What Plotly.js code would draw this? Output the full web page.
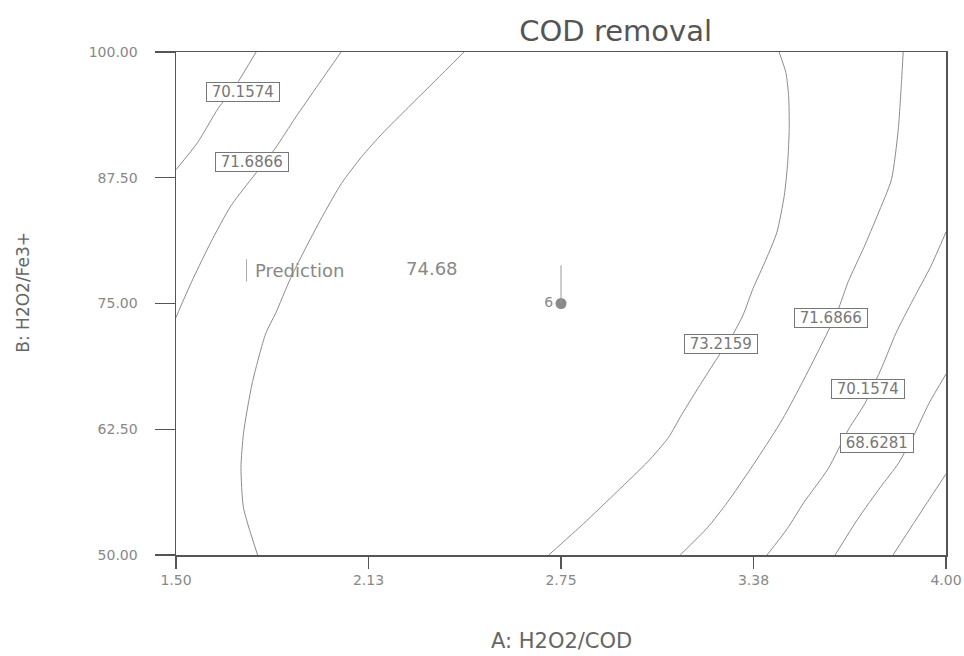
<!DOCTYPE html>
<html>
<head>
<meta charset="utf-8">
<script src="https://cdn.plot.ly/plotly-3.0.1.min.js"></script>
<style>
  html, body { margin: 0; padding: 0; background: #ffffff; }
  #chart { width: 964px; height: 656px; }
</style>
</head>
<body>
<div id="chart"></div>
<script>
// Contour levels of the COD removal response surface (%)
const levels = [67.0989, 68.6281, 70.1574, 71.6866, 73.2159];

// Axis ticks
const xTickVals = [1.5, 2.125, 2.75, 3.375, 4.0];
const xTickText = ['1.50', '2.13', '2.75', '3.38', '4.00'];
const yTickVals = [50, 62.5, 75, 87.5, 100];
const yTickText = ['50.00', '62.50', '75.00', '87.50', '100.00'];

// Contour traces, A: H2O2/COD (x) against B: H2O2/Fe3+ (y)
// 70.1574, upper-left corner
const c701574a_x = [1.76, 1.694, 1.637, 1.571, 1.5];
const c701574a_y = [100, 96.67, 94.40, 91.04, 88.3];
// 71.6866, left side
const c716866a_x = [2.036, 1.963, 1.887, 1.821, 1.679, 1.613, 1.556, 1.513, 1.5];
const c716866a_y = [100, 96.80, 93.44, 90.37, 84.74, 81.08, 77.51, 74.55, 73.6];
// 73.2159, left arc
const c732159a_x = [2.435, 2.343, 2.255, 2.169, 2.103, 2.037, 1.981, 1.924, 1.871, 1.824, 1.791, 1.747, 1.719, 1.711, 1.719, 1.765];
const c732159a_y = [100, 97.19, 94.52, 91.87, 89.60, 86.93, 83.97, 80.70, 77.44, 74.07, 71.99, 67.03, 62.07, 58.69, 54.71, 50];
// 73.2159, right arc
const c732159b_x = [3.458, 3.480, 3.489, 3.491, 3.486, 3.475, 3.451, 3.416, 3.374, 3.341, 3.307, 3.264, 3.208, 3.142, 3.099, 3.033, 2.934, 2.823, 2.71];
const c732159b_y = [100, 97.96, 95.68, 92.40, 89.02, 85.74, 82.07, 79.4, 76.52, 73.85, 71.87, 69.89, 67.22, 63.96, 61.68, 59.31, 56.36, 53.11, 50];
// 71.6866, right side
const c716866b_x = [3.861, 3.856, 3.845, 3.823, 3.778, 3.733, 3.683, 3.648, 3.589, 3.533, 3.476, 3.443, 3.367, 3.291, 3.225, 3.137];
const c716866b_y = [100, 97.27, 92.30, 87.33, 83.8, 80.55, 77.2, 74.25, 70.50, 67.13, 63.87, 62.19, 58.63, 55.27, 52.70, 50];
// 70.1574, right side
const c701574b_x = [4.0, 3.950, 3.893, 3.837, 3.793, 3.737, 3.684, 3.617, 3.538, 3.485, 3.419];
const c701574b_y = [82.11, 78.65, 75.38, 72.02, 68.75, 65.08, 62.51, 58.56, 55.20, 52.63, 50];
// 68.6281
const c686281_x = [4.0, 3.944, 3.898, 3.845, 3.789, 3.713, 3.64];
const c686281_y = [67.99, 65.03, 62.06, 59.09, 56.82, 53.56, 50];
// 67.0989
const c670989_x = [4.0, 3.951, 3.894, 3.828];
const c670989_y = [58.05, 55.78, 53.11, 50];

// Design point and prediction
const predX = 2.75;
const predY = 75;
const predValue = 74.68;
const runLabel = '6';

const FONT = 'DejaVu Sans, Arial, sans-serif';
const lineStyle = { color: '#8c8c8c', width: 1, shape: 'spline', smoothing: 0.6 };

function contour(x, y) {
  return { type: 'scatter', mode: 'lines', x: x, y: y, line: lineStyle,
           hoverinfo: 'skip', showlegend: false, cliponaxis: true };
}

const traces = [
  contour(c701574a_x, c701574a_y),
  contour(c716866a_x, c716866a_y),
  contour(c732159a_x, c732159a_y),
  contour(c732159b_x, c732159b_y),
  contour(c716866b_x, c716866b_y),
  contour(c701574b_x, c701574b_y),
  contour(c686281_x, c686281_y),
  contour(c670989_x, c670989_y),
  {
    type: 'scatter', mode: 'markers+text', x: [predX], y: [predY],
    text: [runLabel], textposition: 'middle left',
    textfont: { family: FONT, size: 14, color: '#888' },
    marker: { color: '#8a8a8a', size: 11, line: { width: 0 } },
    hoverinfo: 'skip', showlegend: false
  }
];

// Boxed contour labels placed on their lines
function levelLabel(level, x, y) {
  return {
    x: x, y: y, xref: 'x', yref: 'y', showarrow: false,
    text: '&nbsp;' + level.toFixed(4) + '&nbsp;',
    font: { family: FONT, size: 15, color: '#777' },
    bgcolor: '#ffffff', bordercolor: '#777', borderwidth: 1, borderpad: 0
  };
}

const annotations = [
  levelLabel(levels[2], 1.716, 96.07),
  levelLabel(levels[3], 1.746, 89.10),
  levelLabel(levels[4], 3.268, 70.98),
  levelLabel(levels[3], 3.627, 73.56),
  levelLabel(levels[2], 3.747, 66.47),
  levelLabel(levels[1], 3.777, 61.09),
  {
    x: 1.75, y: 78.3, xref: 'x', yref: 'y', xanchor: 'left', showarrow: false,
    text: 'Prediction', font: { family: FONT, size: 18, color: '#888' }
  },
  {
    x: 2.33, y: 78.45, xref: 'x', yref: 'y', xanchor: 'center', showarrow: false,
    text: predValue.toFixed(2), font: { family: FONT, size: 18, color: '#888' }
  },
  {
    x: 0.5, y: 0, xref: 'paper', yref: 'paper', yshift: -86, yanchor: 'middle',
    showarrow: false, text: 'A: H2O2/COD',
    font: { family: FONT, size: 21, color: '#666' }
  },
  {
    x: -0.199, y: 0.523, xref: 'paper', yref: 'paper', textangle: -90,
    xanchor: 'center', yanchor: 'middle', showarrow: false, text: 'B: H2O2/Fe3+',
    font: { family: FONT, size: 17, color: '#666' }
  }
];

const shapes = [
  // flag above the design point
  { type: 'line', xref: 'x', yref: 'y', x0: predX, x1: predX, y0: predY, y1: predY + 3.8,
    line: { color: '#999', width: 1 } },
  // marker bar in front of the prediction readout
  { type: 'line', xref: 'x', yref: 'y', x0: 1.729, x1: 1.729, y0: 77.2, y1: 79.4,
    line: { color: '#aaa', width: 1 } }
];

const axisCommon = {
  showline: true, mirror: true, linecolor: '#555', linewidth: 1.5,
  showgrid: false, zeroline: false, ticks: 'outside', tickcolor: '#555', tickwidth: 1.2,
  tickfont: { family: FONT, size: 14, color: '#888' }, fixedrange: true
};

const layout = {
  width: 964, height: 656,
  margin: { l: 176, r: 18, t: 52, b: 101 },
  paper_bgcolor: '#ffffff', plot_bgcolor: '#ffffff',
  title: {
    text: 'COD removal', x: 0.571, xanchor: 'center', xref: 'paper',
    y: 0.953, yanchor: 'middle', yref: 'container',
    font: { family: FONT, size: 29, color: '#555' }
  },
  xaxis: Object.assign({}, axisCommon, {
    range: [1.5, 4.0], tickvals: xTickVals, ticktext: xTickText, ticklen: 12
  }),
  yaxis: Object.assign({}, axisCommon, {
    range: [50, 100], tickvals: yTickVals, ticktext: yTickText, ticklen: 20,
    ticklabelstandoff: 14
  }),
  annotations: annotations,
  shapes: shapes,
  showlegend: false
};

Plotly.newPlot('chart', traces, layout, { displayModeBar: false, staticPlot: true });
</script>
</body>
</html>
